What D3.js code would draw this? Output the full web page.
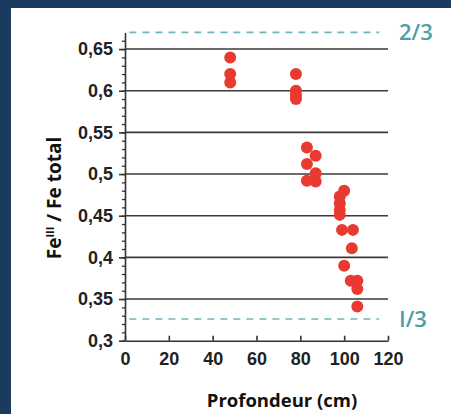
<!DOCTYPE html>
<html>
<head>
<meta charset="utf-8">
<script src="https://cdn.jsdelivr.net/npm/d3@7"></script>
<style>
  body { margin: 0; background: #1b3a5f; }
  svg { display: block; }
</style>
</head>
<body>
<script>
// data
var depth = [48, 48, 48, 78, 78, 78, 78, 83, 83, 83, 87, 87, 87,
             100, 98, 98, 98, 98, 99, 104, 103.5, 100, 103, 106, 106, 106];
var ratio = [0.64, 0.62, 0.61, 0.62, 0.60, 0.595, 0.59, 0.532, 0.512, 0.492, 0.522, 0.501, 0.491,
             0.48, 0.473, 0.465, 0.457, 0.451, 0.433, 0.433, 0.411, 0.39, 0.372, 0.372, 0.362, 0.341];
var yTicks = [0.30, 0.35, 0.40, 0.45, 0.50, 0.55, 0.60, 0.65];
var xTicks = [0, 20, 40, 60, 80, 100, 120];
var refValues = [0.67, 0.326];
var refLabels = ["2/3", "I/3"];

var W = 451, H = 414;
var margin = {left: 125, right: 63, top: 32.4, bottom: 73.3};

var svg = d3.select("body").append("svg")
    .attr("width", W)
    .attr("height", H);

// white panel on navy frame
svg.append("rect")
    .attr("x", 11).attr("y", 8)
    .attr("width", W - 11).attr("height", H - 8)
    .attr("fill", "#ffffff");

var x = d3.scaleLinear().domain([0, 120]).range([margin.left, W - margin.right]);
var y = d3.scaleLinear().domain([0.3, 0.67]).range([H - margin.bottom, margin.top]);

var fr = d3.formatLocale({decimal: ",", thousands: " ", grouping: [3], currency: ["", ""]});
var fmt = fr.format(".2~f");

// horizontal gridlines
svg.selectAll(".grid")
    .data(yTicks.slice(1))
    .join("line")
    .attr("x1", x(0)).attr("x2", x(120))
    .attr("y1", function(d) { return y(d); })
    .attr("y2", function(d) { return y(d); })
    .attr("stroke", "#3a3a3a")
    .attr("stroke-width", 1.6);

// dashed reference lines
svg.selectAll(".ref")
    .data(refValues)
    .join("line")
    .attr("x1", x(2)).attr("x2", x(116))
    .attr("y1", function(d) { return y(d); })
    .attr("y2", function(d) { return y(d); })
    .attr("stroke", "#6bb8bc")
    .attr("stroke-width", 1.6)
    .attr("stroke-dasharray", "7,6");

svg.selectAll(".reflab")
    .data(refValues)
    .join("text")
    .attr("x", 399)
    .attr("y", function(d) { return y(d); })
    .attr("dy", "0.36em")
    .attr("font-family", "Open Sans")
    .attr("font-weight", 600)
    .attr("font-size", 22)
    .attr("fill", "#4f9ea3")
    .text(function(d, i) { return refLabels[i]; });

// minor y ticks
svg.append("g")
    .attr("transform", "translate(" + margin.left + ",0)")
    .call(d3.axisLeft(y).tickValues(d3.range(30, 67).map(function(v) { return v / 100; }))
        .tickSize(3).tickFormat(""))
    .call(function(g) { g.select(".domain").remove(); })
    .selectAll("line").attr("stroke", "#333").attr("stroke-width", 1.3);

// y axis
var gy = svg.append("g")
    .attr("transform", "translate(" + margin.left + ",0)")
    .call(d3.axisLeft(y).tickValues(yTicks).tickSize(6).tickSizeOuter(0).tickPadding(6).tickFormat(fmt));
gy.select(".domain").attr("stroke", "#333").attr("stroke-width", 1.6);
gy.selectAll(".tick line").attr("stroke", "#333").attr("stroke-width", 1.6);
gy.selectAll("text")
    .attr("font-family", "Liberation Sans")
    .attr("font-weight", "bold")
    .attr("font-size", 18)
    .attr("fill", "#222");

// x axis
var gx = svg.append("g")
    .attr("transform", "translate(0," + y(0.3) + ")")
    .call(d3.axisBottom(x).tickValues(xTicks).tickSize(-5).tickSizeOuter(0).tickPadding(12));
gx.select(".domain").attr("stroke", "#333").attr("stroke-width", 1.6);
gx.selectAll(".tick line").attr("stroke", "#333").attr("stroke-width", 1.6);
gx.selectAll("text")
    .attr("font-family", "Liberation Sans")
    .attr("font-weight", "bold")
    .attr("font-size", 18)
    .attr("fill", "#222");

// points
svg.selectAll(".pt")
    .data(depth)
    .join("circle")
    .attr("cx", function(d) { return x(d); })
    .attr("cy", function(d, i) { return y(ratio[i]); })
    .attr("r", 6)
    .attr("fill", "#e83a30");

// axis titles
svg.append("text")
    .attr("x", 282)
    .attr("y", 407)
    .attr("text-anchor", "middle")
    .attr("font-family", "Open Sans")
    .attr("font-weight", "bold")
    .attr("font-size", 18.5)
    .attr("fill", "#111")
    .text("Profondeur (cm)");

var yt = svg.append("text")
    .attr("transform", "translate(61,198) rotate(-90)")
    .attr("text-anchor", "middle")
    .attr("font-family", "Open Sans")
    .attr("font-weight", "bold")
    .attr("font-size", 19)
    .attr("fill", "#111");
yt.append("tspan").text("Fe");
yt.append("tspan").attr("dy", -7).attr("font-size", 11).text("III");
yt.append("tspan").attr("dy", 7).text(" / Fe total");
</script>
</body>
</html>
